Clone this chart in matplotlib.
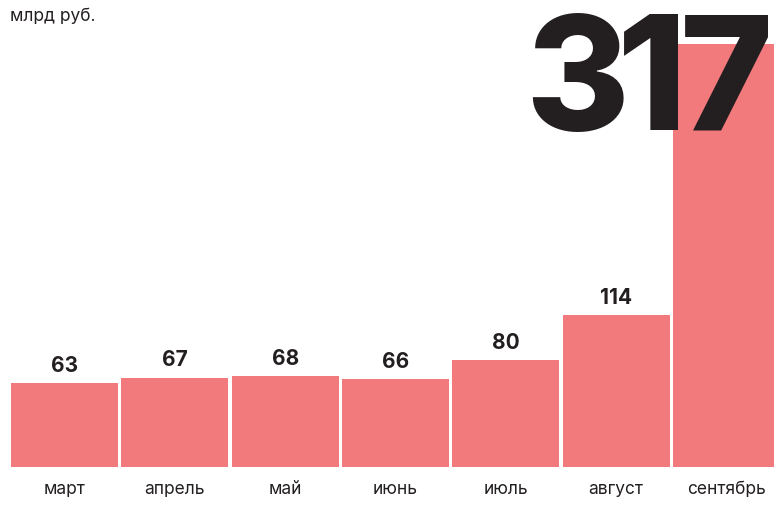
import matplotlib

matplotlib.use('agg')

import matplotlib.pyplot as plt

months = ['март', 'апрель', 'май', 'июнь', 'июль', 'август', 'сентябрь']
values = [63, 67, 68, 66, 80, 114, 317]
unit = 'млрд руб.'
big_number = '317'

BAR = '#f27a7c'
INK = '#231f20'

plt.rcParams['font.family'] = ['Inter', 'DejaVu Sans']

fig = plt.figure(figsize=(7.74, 5.14), dpi=100)
ax = fig.add_axes([0, 0, 1, 1])
ax.set_xlim(-0.585, 6.432)
ax.set_ylim(-35.3, 350.3)
ax.axis('off')

x = range(len(values))
ax.bar(x, values, width=0.97, color=BAR, zorder=1)

for i, (m, v) in enumerate(zip(months, values)):
    ax.text(i, -17, m, ha='center', va='center', fontsize=12.5, color=INK)
    if i < len(values) - 1:
        ax.text(i, v + 5.5, str(v), ha='center', va='bottom', fontsize=15,
                fontweight='bold', color=INK)

# big headline number, digits set tight like the original
digit_x = [0.7455, 0.842, 0.938]
for d, dx in zip(big_number, digit_x):
    fig.text(dx, 0.747, d, ha='center', va='baseline', fontsize=114,
             fontweight=800, color=INK, zorder=5)

fig.text(0.013, 0.985, unit, ha='left', va='top', fontsize=12.5, color=INK)

fig.savefig('out.png', dpi=100)
